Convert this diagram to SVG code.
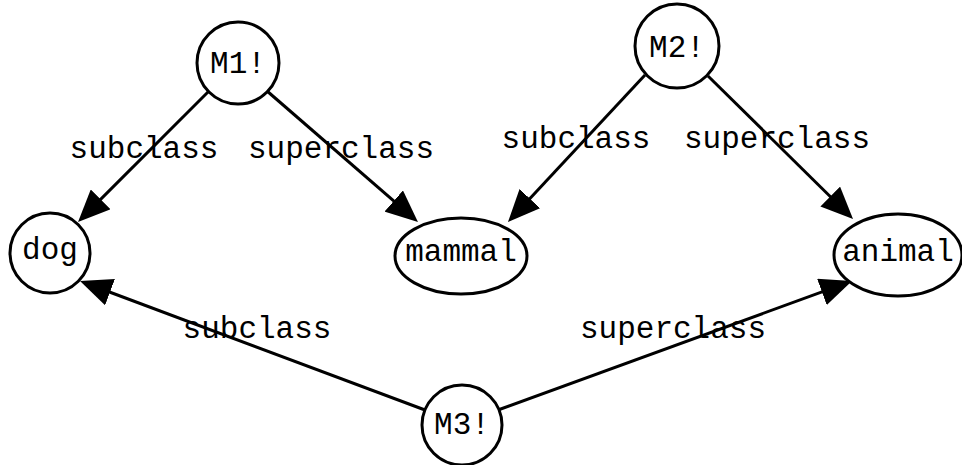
<svg xmlns="http://www.w3.org/2000/svg" width="962" height="465" viewBox="0 0 962 465">
  <style>
    .node { fill: #ffffff; stroke: #000000; stroke-width: 3; }
    .edge { fill: none; stroke: #000000; stroke-width: 3; }
    text { font-family: "Liberation Mono", "Courier New", monospace; font-size: 31px; fill: #000000; text-anchor: middle; }
  </style>
  <defs>
    <marker id="arrow" viewBox="0 0 32 28" refX="22" refY="14" markerWidth="32" markerHeight="28" markerUnits="userSpaceOnUse" orient="auto">
      <path d="M0,0 L32,14 L0,28 z" fill="#000000"/>
    </marker>
  </defs>

  <!-- connectors -->
  <g id="edges">
    <line class="edge" x1="208" y1="92" x2="85.1" y2="214.9" marker-end="url(#arrow)"/>
    <line class="edge" x1="267" y1="91" x2="410.4" y2="215.4" marker-end="url(#arrow)"/>
    <line class="edge" x1="645" y1="75" x2="514.8" y2="214.7" marker-end="url(#arrow)"/>
    <line class="edge" x1="708" y1="76" x2="845.9" y2="212.0" marker-end="url(#arrow)"/>
    <line class="edge" x1="425" y1="410" x2="89.4" y2="284.5" marker-end="url(#arrow)"/>
    <line class="edge" x1="498" y1="410" x2="842.6" y2="284.4" marker-end="url(#arrow)"/>
    <text x="144" y="158">subclass</text>
    <text x="341" y="158">superclass</text>
    <text x="576" y="148">subclass</text>
    <text x="777" y="148">superclass</text>
    <text x="257" y="338">subclass</text>
    <text x="673" y="338">superclass</text>
  </g>

  <!-- nodes -->
  <g id="M1">
    <circle class="node" cx="238" cy="63" r="41"/>
    <text x="238" y="73">M1!</text>
  </g>
  <g id="M2">
    <circle class="node" cx="677" cy="46" r="42"/>
    <text x="677" y="57">M2!</text>
  </g>
  <g id="dog">
    <circle class="node" cx="50" cy="253" r="40"/>
    <text x="50" y="259">dog</text>
  </g>
  <g id="mammal">
    <ellipse class="node" cx="461" cy="256" rx="66" ry="38"/>
    <text x="461" y="261">mammal</text>
  </g>
  <g id="animal">
    <ellipse class="node" cx="898" cy="255" rx="64" ry="41"/>
    <text x="898" y="261">animal</text>
  </g>
  <g id="M3">
    <circle class="node" cx="462" cy="425" r="40"/>
    <text x="462" y="434">M3!</text>
  </g>
</svg>
